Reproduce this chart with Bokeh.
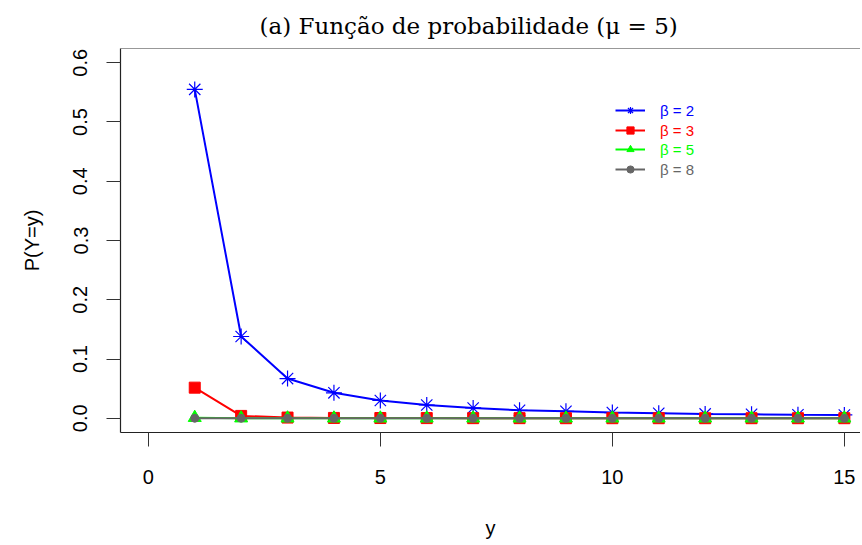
from bokeh.plotting import figure
from bokeh.models import (Range1d, FixedTicker, Span, Legend, LegendItem)
from bokeh.embed import file_html
from bokeh.resources import INLINE

# ---- data ----
y_vals = [1, 2, 3, 4, 5, 6, 7, 8, 9, 10, 11, 12, 13, 14, 15]
p_beta2 = [0.555, 0.138, 0.067, 0.043, 0.030, 0.0224, 0.0174, 0.0135, 0.0118,
           0.0096, 0.0084, 0.0073, 0.0067, 0.0060, 0.0056]
p_beta3 = [0.0517, 0.0040, 0.0012, 0.0006, 0.0004, 0.0003, 0.0002, 0.0002, 0.0001,
           0.0001, 0.0001, 0.0001, 0.0001, 0.0001, 0.0001]
p_beta5 = [0.0010, 0.0002, 0.0001, 0.0000, 0.0000, 0.0000, 0.0000, 0.0000, 0.0000,
           0.0000, 0.0000, 0.0000, 0.0000, 0.0000, 0.0000]
p_beta8 = [0.0000] * 15
series_labels = ["β = 2", "β = 3", "β = 5", "β = 8"]
x_ticks = [0, 5, 10, 15]
y_ticks = [0.0, 0.1, 0.2, 0.3, 0.4, 0.5, 0.6]
title_text = "(a) Função de probabilidade (μ = 5)"

W, H = 860, 541
p = figure(width=W, height=H, output_backend="svg", toolbar_location=None,
           x_range=Range1d(-0.6, 15.348), y_range=Range1d(-0.024, 0.624),
           min_border_left=120, min_border_right=0, min_border_top=48,
           min_border_bottom=109)
p.xgrid.visible = False
p.ygrid.visible = False
p.outline_line_color = None
p.background_fill_color = "white"
p.border_fill_color = "white"

p.title.text = title_text
p.title.align = "left"
p.title.offset = 139
p.title.standoff = 20
p.title.text_font = "DejaVu Serif"
p.title.text_font_size = "23px"
p.title.text_font_style = "normal"
p.title.text_color = "black"

FONT = "Liberation Sans"
for ax in (p.xaxis[0], p.yaxis[0]):
    ax.axis_line_color = "#222222"
    ax.axis_line_width = 1.2
    ax.major_tick_line_color = "#333333"
    ax.major_tick_out = 14
    ax.major_tick_in = 0
    ax.minor_tick_line_color = None
    ax.major_label_text_font = FONT
    ax.major_label_text_font_size = "20px"
    ax.major_label_text_color = "black"
    ax.axis_label_text_font = FONT
    ax.axis_label_text_font_size = "20px"
    ax.axis_label_text_font_style = "normal"
    ax.axis_label_text_color = "black"

p.xaxis.ticker = FixedTicker(ticks=x_ticks)
p.yaxis.ticker = FixedTicker(ticks=y_ticks)
p.yaxis.major_label_orientation = "vertical"
p.yaxis.major_label_overrides = {t: f"{t:.1f}" for t in y_ticks}
p.xaxis.major_label_standoff = 23
p.yaxis.major_label_standoff = 19
p.xaxis.axis_label = "y"
p.yaxis.axis_label = "P(Y=y)"
p.xaxis.axis_label_standoff = 30
p.yaxis.axis_label_standoff = 28

# top edge of the box
p.add_layout(Span(location=0.624, dimension="width", line_color="#333333", line_width=1.2))

colors = ["#0000FF", "#FF0000", "#00FF00", "#666666"]
data = [p_beta2, p_beta3, p_beta5, p_beta8]
markers = ["asterisk", "square", "triangle", "circle"]
sizes = [16, 11, 13, 8]

rends = []
for vals, c, m, s in zip(data, colors, markers, sizes):
    lr = p.line(y_vals, vals, line_color=c, line_width=2)
    if m == "asterisk":
        sr = p.scatter(y_vals, vals, marker=m, size=s, line_color=c, line_width=1.2)
    else:
        sr = p.scatter(y_vals, vals, marker=m, size=s, fill_color=c, line_color=c, line_width=1)
    rends.append((lr, sr))

# legends (one per series so each label has its series colour)
row_y = [111, 131, 150, 170]  # page y of row centres
for (lr, sr), lab, c, ry in zip(rends, series_labels, colors, row_y):
    leg = Legend(items=[LegendItem(label=lab, renderers=[lr, sr])],
                 location=(495, 424 - ry), orientation="vertical",
                 border_line_color=None, background_fill_alpha=0,
                 padding=0, margin=0, spacing=0,
                 glyph_width=30, glyph_height=18, label_height=18,
                 label_standoff=15, label_text_color=c,
                 label_text_font=FONT, label_text_font_size="15px",
                 label_text_baseline="middle")
    p.add_layout(leg)

open("out.html", "w").write(file_html(p, INLINE))
